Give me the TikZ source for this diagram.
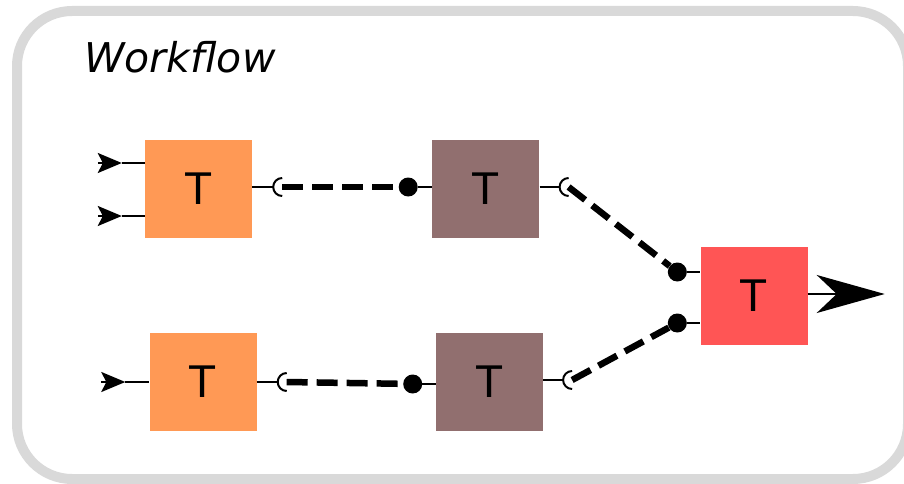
\documentclass[tikz,border=0pt]{standalone}
\usepackage{fontspec}
\setmainfont{Liberation Sans}
\newfontfamily\titlefont{DejaVu Sans}
\usetikzlibrary{positioning}
\usetikzlibrary{arrows.meta}

\definecolor{taskorange}{RGB}{255,153,85}
\definecolor{taskbrown}{RGB}{145,111,111}
\definecolor{taskred}{RGB}{255,85,85}
\definecolor{framegray}{RGB}{217,217,217}

\tikzset{
	task/.style = {minimum width=107pt, minimum height=98pt, inner sep=0pt, font=\fontsize{46}{46}\selectfont},
	wire/.style = {line width=2pt},
	link/.style = {line width=6.5pt, dash pattern=on 21pt off 9pt},
	plug/.style = {circle, fill, inner sep=0pt, minimum size=19pt},
	intip/.style = {-{Stealth[length=24pt, width=20pt, inset=5pt]}},
	outtip/.style = {-{Stealth[length=68pt, width=38pt, inset=20pt]}}
}

\begin{document}
\begin{tikzpicture}[x=1pt, y=-1pt]
			\useasboundingbox (0,0) rectangle (904,484);
			\draw[framegray, line width=10pt, rounded corners=55pt] (17,11) rectangle (908,479);
			\node[anchor=base west, inner sep=0pt, font=\titlefont\itshape\fontsize{41}{41}\selectfont] (title) at (84,73) {Workflow};
			
			\node[task, fill=taskorange] (tA) at (198.5,189) {T};
			\node[task, fill=taskbrown, right = 180pt of tA] (tB) {T};
			\node[task, fill=taskorange] (tC) at (203,382) {T};
			\node[task, fill=taskbrown, right = 179pt of tC] (tD) {T};
			\node[task, fill=taskred] (tE) at (754,296) {T};
			
			% inputs of the first row
			\coordinate (inA1) at ([xshift=-47pt, yshift=26pt]tA.west);
			\coordinate (inA2) at ([xshift=-47pt, yshift=-27pt]tA.west);
			\coordinate (inC) at ([xshift=-48pt]tC.west);
			\foreach \p/\t in {inA1/tA, inA2/tA, inC/tC} {
				\draw[wire, intip] (\p) -- ++(24,0) coordinate (\p tip);
				\draw[wire] (\p tip) -- (\p tip -| \t.west);
			}
			
			% sockets on the outputs
			\coordinate (sA) at ([xshift=30pt, yshift=2pt]tA.east);
			\coordinate (sB) at ([xshift=29pt, yshift=2pt]tB.east);
			\coordinate (sC) at ([xshift=30pt]tC.east);
			\coordinate (sD) at ([xshift=29pt, yshift=2pt]tD.east);
			\foreach \s/\t in {sA/tA, sB/tB, sC/tC, sD/tD} {
				\draw[wire] (\s -| \t.east) -- ([xshift=-9pt]\s);
				\draw[wire] ([yshift=9pt]\s) arc[start angle=90, end angle=270, radius=9pt];
			}
			
			% plugs on the inputs
			\node[plug] (pB) at ([xshift=-24pt]sA -| tB.west) {};
			\node[plug] (pD) at ([xshift=-23pt, yshift=-2pt]sC -| tD.west) {};
			\node[plug] (pE1) at ([xshift=-23pt, yshift=24pt]tE.west) {};
			\node[plug] (pE2) at ([xshift=-23pt, yshift=-27pt]tE.west) {};
			\draw[wire] (pB) -- (pB -| tB.west);
			\draw[wire] (pD) -- (pD -| tD.west);
			\draw[wire] (pE1) -- (pE1 -| tE.west);
			\draw[wire] (pE2) -- (pE2 -| tE.west);
			
			\draw[link] (sA) -- (pB);
			\draw[link] (sC) -- (pD);
			\draw[link] (sB) -- (pE1);
			\draw[link] (sD) -- (pE2);
			
			\coordinate (out) at ([xshift=77pt, yshift=2pt]tE.east);
			\draw[wire, outtip] (out -| tE.east) -- (out);
\end{tikzpicture}
\end{document}
